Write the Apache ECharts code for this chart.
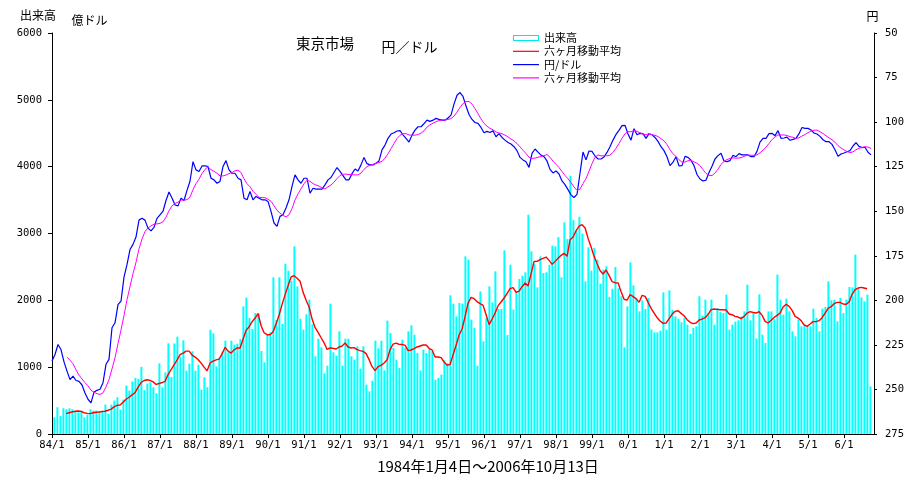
<!DOCTYPE html>
<html><head><meta charset="utf-8">
<script src="https://cdn.jsdelivr.net/npm/echarts@6/dist/echarts.min.js"></script>
<style>html,body{margin:0;padding:0;background:#fff}#c{width:922px;height:478px}</style>
</head><body><div id="c"></div>
<script>
// x tick labels (one per January, 1984..2006)
const xTickLabels = ['84/1','85/1','86/1','87/1','88/1','89/1','90/1','91/1','92/1','93/1','94/1','95/1','96/1','97/1','98/1','99/1','0/1','1/1','2/1','3/1','4/1','5/1','6/1'];
const seriesNames = {vol:'出来高', volMA:'六ヶ月移動平均', rate:'円/ドル', rateMA:'六ヶ月移動平均'};

// Monthly volume (億ドル), Jan 1984 .. Oct 2006
const volume = [null,250,400,270,385,370,385,370,340,325,350,250,
290,370,350,350,340,330,440,300,440,500,550,365,
515,725,650,785,840,825,1005,655,755,775,700,610,
1057,698,923,1356,853,1356,1456,1157,1401,948,1052,1237,
948,1037,663,850,700,1561,1506,1012,1137,1232,1396,1222,
1396,1337,1351,1421,1910,2040,1735,1571,1810,1810,1242,1072,
1496,1521,2344,1706,2344,1646,2548,2444,2289,2808,2209,1725,
1561,1790,2010,1641,1162,1426,1297,908,1022,1950,1222,1172,
1536,1022,1426,1426,1162,1112,1312,977,1312,738,638,798,
1396,1282,1396,953,1696,1511,1287,1112,987,1411,1287,1536,
1626,1486,1212,953,1262,1212,1272,1237,813,838,888,1102,
1062,2075,1950,1760,1960,1950,2658,2608,1711,1586,1022,2134,
1386,1735,2209,1970,2434,1870,1870,2748,1481,2533,1860,2134,
2319,2369,2419,3281,2733,2548,2194,2658,2409,2419,2533,2818,
2808,2947,2344,3167,2917,3865,3200,3050,3250,3000,2284,2793,
2444,2783,2608,2249,2459,2508,2050,2174,2498,2179,2060,1297,
1910,2568,2224,2025,1835,2000,1870,2035,1561,1521,1521,1546,
2119,1561,2149,1860,1760,1725,1671,1735,1636,1501,1586,1611,
2060,1770,2010,1810,2010,1636,1885,1830,1810,2085,1561,1636,
1681,1701,1760,1835,2234,1701,1810,1431,2090,1486,1361,1835,
1835,1720,2384,2010,1785,2025,1835,1536,1461,1711,1611,1611,
1611,1611,1875,1735,1536,1875,1900,2284,2000,2010,1686,2035,
1810,2010,2199,2194,2683,2169,2045,1985,2085,713];

// Six-month moving average of volume
const volumeMA = [null,null,null,null,null,305,318,330,340,345,338,318,
308,305,318,325,330,336,340,355,372,405,430,433,
475,520,550,585,620,700,770,800,812,802,780,742,
755,770,788,890,965,1035,1110,1187,1210,1240,1240,1180,
1150,1115,1060,1000,945,1062,1090,1110,1120,1200,1297,1240,
1210,1260,1287,1287,1420,1550,1605,1680,1735,1800,1620,1515,
1486,1486,1530,1650,1780,1940,2085,2220,2350,2369,2330,2284,
2120,2000,1900,1720,1590,1520,1440,1365,1265,1287,1282,1272,
1302,1317,1361,1302,1287,1292,1262,1247,1237,1202,1112,1007,
948,1007,1027,1062,1112,1262,1346,1361,1341,1341,1327,1247,
1257,1277,1302,1317,1332,1332,1282,1257,1152,1152,1142,1077,
1027,1042,1187,1327,1481,1571,1760,1960,2045,2025,1980,1950,
1925,1785,1636,1720,1810,1920,1975,2035,2104,2174,2189,2119,
2139,2204,2259,2214,2399,2583,2583,2608,2628,2648,2598,2538,
2583,2628,2673,2703,2658,2907,2947,3042,3112,3132,3082,2927,
2798,2658,2548,2444,2394,2454,2369,2279,2264,2259,2130,2015,
2005,2085,2055,2025,1970,2075,2060,1970,1880,1810,1740,1691,
1656,1661,1726,1790,1835,1845,1805,1770,1711,1671,1651,1661,
1706,1720,1740,1790,1860,1870,1865,1860,1860,1855,1795,1785,
1760,1750,1726,1760,1810,1830,1820,1810,1830,1775,1686,1661,
1701,1745,1775,1810,1900,1940,1910,1850,1760,1735,1696,1631,
1611,1646,1681,1681,1696,1740,1810,1880,1905,1950,1970,1970,
1945,1940,1975,2090,2159,2184,2194,2184,2174,null];

// Yen per dollar, monthly
const rate = [234.1,230.4,224.8,227.6,234.5,239.7,244.5,242.5,245.0,245.5,247.5,252.0,
255.5,257.5,251.5,250.5,249.9,246.2,235.9,233.1,215.4,212.6,202.4,200.5,
187.0,180.0,171.5,168.6,164.5,155.0,154.0,155.0,159.5,161.0,159.0,154.0,
152.0,150.0,144.0,139.2,142.6,146.5,147.0,142.7,144.0,138.3,133.2,122.2,
126.8,127.7,124.6,124.6,124.9,131.5,132.4,134.3,133.3,124.9,121.6,126.8,
128.7,128.7,131.5,132.4,142.7,143.6,138.9,143.6,141.7,142.7,143.6,143.6,
144.5,150.1,156.6,158.5,152.9,152.0,148.2,143.6,136.1,129.6,132.4,134.3,
131.5,131.5,139.9,137.1,137.6,137.6,137.6,135.2,132.4,131.1,128.3,125.5,
127.6,130.0,132.4,132.4,128.9,126.3,127.4,124.0,119.8,123.3,124.0,124.0,
123.1,121.8,115.6,112.9,109.1,106.7,106.0,105.0,104.8,107.1,109.1,111.2,
107.3,104.5,102.6,102.6,100.9,98.9,99.6,98.9,97.9,98.5,98.9,98.9,
97.7,96.1,89.9,84.9,83.4,85.6,91.0,95.7,98.5,100.2,100.7,103.0,
106.0,105.2,105.8,104.8,108.2,106.5,108.6,110.1,111.4,112.3,113.8,116.0,
119.8,121.2,122.2,125.4,117.5,115.1,116.8,118.5,119.4,121.8,126.5,128.5,
127.4,129.1,133.0,135.1,137.9,140.8,142.3,140.5,128.7,116.8,121.2,116.2,
116.4,119.0,120.7,120.7,119.6,117.0,113.8,110.1,106.9,104.6,102.0,101.8,
106.7,110.1,103.7,107.1,106.3,106.5,109.1,106.5,107.1,108.6,110.8,113.8,
116.0,119.4,124.4,122.5,119.4,124.6,124.4,119.2,119.8,121.4,124.4,129.4,
131.9,133.0,132.6,128.3,124.8,120.7,118.8,117.5,121.8,122.2,121.6,118.6,
119.4,117.7,118.4,118.4,118.4,119.4,119.4,116.4,111.2,109.1,109.1,106.5,
106.3,107.6,104.8,109.1,108.9,108.4,110.2,109.7,109.1,106.5,103.0,103.5,
103.5,104.4,106.1,106.7,108.0,109.9,111.0,111.0,112.5,115.5,119.2,117.9,
117.3,116.6,116.0,113.4,111.5,113.6,114.3,114.1,116.9,118.4];

// Six-month moving average of yen rate (magenta line)
const rateMA = [null,null,null,null,null,231.9,233.6,235.6,239.0,242.0,244.1,246.2,
248.0,250.5,251.6,252.4,252.8,251.9,248.6,244.5,238.5,232.2,224.3,216.7,
208.5,199.7,192.3,185.0,178.7,171.1,165.6,161.4,159.4,158.2,157.3,157.1,
156.8,155.9,153.3,149.7,147.0,145.7,144.9,143.7,143.7,143.5,142.0,137.9,
134.5,132.0,128.8,126.5,125.1,126.7,127.6,128.7,130.2,130.2,129.7,128.9,
128.3,127.3,127.0,128.3,131.8,134.6,136.3,138.8,140.5,142.2,142.4,142.4,
143.3,144.4,146.9,149.5,151.0,152.4,153.1,152.0,148.6,143.7,140.3,137.4,
134.6,132.6,133.2,134.5,135.3,135.9,136.9,137.5,136.3,135.3,133.7,131.7,
130.0,129.2,129.2,129.4,129.5,129.6,129.6,128.6,126.5,125.0,124.1,123.8,
123.0,122.7,122.0,120.2,117.8,114.9,112.0,109.2,107.4,106.5,106.5,107.2,
107.4,107.3,107.0,106.2,104.9,102.8,101.5,100.6,99.8,99.1,98.8,98.8,
98.5,98.0,96.7,94.4,91.8,89.6,88.5,88.4,89.9,92.4,95.3,98.2,
100.7,102.3,103.5,104.3,105.5,106.1,106.5,107.3,108.3,109.5,110.5,112.0,
113.9,115.8,117.6,119.7,120.4,120.2,119.7,119.3,118.8,118.2,119.7,121.9,
123.7,125.5,127.7,129.9,131.8,133.9,136.4,138.3,137.6,134.5,131.7,127.6,
123.3,119.7,118.4,119.0,118.8,118.9,118.5,117.0,114.7,112.0,109.1,106.5,
105.4,105.4,104.8,105.2,106.0,106.7,107.1,106.5,107.1,107.4,108.1,109.3,
110.5,112.6,115.5,117.8,119.3,121.1,122.5,122.4,121.7,121.5,122.3,123.1,
124.4,126.7,128.8,129.9,130.0,128.6,126.4,123.8,122.0,121.0,120.4,120.1,
120.2,120.2,119.7,119.0,118.5,118.6,118.6,118.4,117.2,115.7,114.1,112.0,
109.8,108.3,107.2,107.2,107.2,107.5,108.2,108.5,109.2,108.8,107.8,107.0,
105.9,105.0,104.5,104.5,105.4,106.4,107.7,108.8,109.9,111.3,113.2,114.5,
115.6,116.5,117.1,116.7,115.5,114.7,114.2,113.8,114.0,114.8];

const toPairs = (arr, shift) => arr.map((v, i) => v == null ? null : [i + shift, v]).filter(Boolean);
const tickVals = xTickLabels.map((_, k) => k * 12);
const NUM_FONT = 'DejaVu Sans Mono';
const JP_FONT = '"Noto Sans CJK JP"';
const LINE_ICON = 'path://M0,0H26V1.2H0Z';
const BOX_ICON = 'path://M0,0H26V6H0Z M1,1V5H25V1Z';

const chart = echarts.init(document.getElementById('c'), null, {renderer: 'canvas'});
const txt = (text, x, y, size) => ({type: 'text', x: x, y: y, silent: true,
  style: {text: text, fill: '#000', font: size + 'px ' + JP_FONT, align: 'center', verticalAlign: 'middle', textAlign: 'center', textVerticalAlign: 'middle'}});

chart.setOption({
  animation: false,
  backgroundColor: '#fff',
  grid: {left: 52, right: 48, top: 33, bottom: 44},
  legend: {
    orient: 'vertical', left: 513, top: 31.5, padding: 0, itemWidth: 26, itemHeight: 6, itemGap: 0.3,
    symbolKeepAspect: true,
    textStyle: {fontSize: 11, lineHeight: 13, fontFamily: JP_FONT, color: '#000'},
    formatter: n => seriesNames[n],
    data: [
      {name: 'vol', icon: BOX_ICON, itemStyle: {color: '#00e8f0', borderWidth: 0}},
      {name: 'volMA', icon: LINE_ICON, itemStyle: {color: '#ff0000', borderWidth: 0}},
      {name: 'rate', icon: LINE_ICON, itemStyle: {color: '#0000ff', borderWidth: 0}},
      {name: 'rateMA', icon: LINE_ICON, itemStyle: {color: '#ff00ff', borderWidth: 0}}
    ]
  },
  xAxis: {
    type: 'value', min: 0, max: 274, interval: 12,
    axisLine: {show: true, onZero: false, lineStyle: {color: '#000', width: 1}},
    axisTick: {show: true, length: 4, customValues: tickVals, lineStyle: {color: '#000'}},
    axisLabel: {customValues: tickVals, margin: 6, color: '#000', fontFamily: NUM_FONT, fontSize: 10.5,
      formatter: v => (v % 12 === 0 && xTickLabels[v / 12]) ? xTickLabels[v / 12] : ''},
    splitLine: {show: false}
  },
  yAxis: [
    {type: 'value', min: 0, max: 6000, interval: 1000, position: 'left',
      axisLine: {show: true, lineStyle: {color: '#000'}},
      axisTick: {show: true, length: 4, lineStyle: {color: '#000'}},
      axisLabel: {margin: 10, color: '#000', fontFamily: NUM_FONT, fontSize: 10.5, formatter: v => String(v)},
      splitLine: {show: false}},
    {type: 'value', min: 50, max: 275, interval: 25, inverse: true, position: 'right',
      axisLine: {show: true, lineStyle: {color: '#000'}},
      axisTick: {show: true, length: 3, lineStyle: {color: '#000'}},
      axisLabel: {margin: 11, color: '#000', fontFamily: NUM_FONT, fontSize: 10.5, formatter: v => String(v)},
      splitLine: {show: false}}
  ],
  series: [
    {name: 'vol', type: 'bar', yAxisIndex: 0, barWidth: 2, data: toPairs(volume, -0.2),
      itemStyle: {color: '#00ffff'}, z: 1},
    {name: 'volMA', type: 'line', yAxisIndex: 0, symbol: 'none', data: toPairs(volumeMA, -0.3),
      lineStyle: {color: '#ff0000', width: 1.4}, itemStyle: {color: '#ff0000'}, z: 2},
    {name: 'rate', type: 'line', yAxisIndex: 1, symbol: 'none', data: toPairs(rate, 0),
      lineStyle: {color: '#0000ff', width: 1.2}, itemStyle: {color: '#0000ff'}, z: 3},
    {name: 'rateMA', type: 'line', yAxisIndex: 1, symbol: 'none', data: toPairs(rateMA, 0),
      lineStyle: {color: '#ff00ff', width: 1}, itemStyle: {color: '#ff00ff'}, z: 4}
  ],
  graphic: [
    txt('出来高', 38, 15.5, 12),
    txt('億ドル', 89.5, 20.5, 12),
    txt('東京市場', 325, 43, 14.5),
    txt('円／ドル', 409.5, 46.5, 14),
    txt('円', 872.5, 16.5, 12),
    txt('1984年1月4日～2006年10月13日', 488, 466.5, 15)
  ]
});
</script></body></html>
